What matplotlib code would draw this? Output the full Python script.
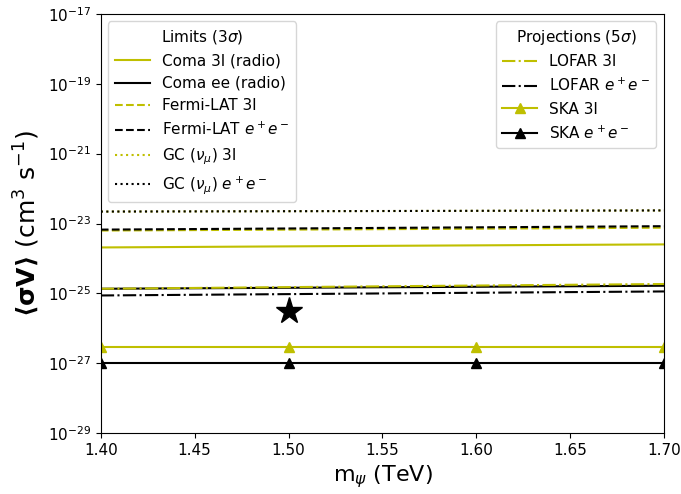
import matplotlib
matplotlib.use("Agg")
import matplotlib.pyplot as plt

plt.rcParams['font.size'] = 11

# masses (TeV)
m_line = [1.4, 1.55, 1.7]
m_ska = [1.4, 1.5, 1.6, 1.7]

# limits (3 sigma)
coma_3l = [2.07e-24, 2.3e-24, 2.53e-24]
coma_ee = [1.36e-25, 1.5e-25, 1.66e-25]
fermi_3l = [6.3e-24, 6.9e-24, 7.6e-24]
fermi_ee = [6.7e-24, 7.5e-24, 8.4e-24]
gc_3l = [2.2e-23, 2.28e-23, 2.37e-23]
gc_ee = [2.2e-23, 2.28e-23, 2.37e-23]

# projections (5 sigma)
lofar_3l = [1.36e-25, 1.6e-25, 1.86e-25]
lofar_ee = [8.75e-26, 1.0e-25, 1.14e-25]
ska_3l = [3e-27, 3e-27, 3e-27, 3e-27]
ska_ee = [1e-27, 1e-27, 1e-27, 1e-27]

# benchmark point
star_m = [1.5]
star_sv = [3.2e-26]

yc = 'y'

fig, ax = plt.subplots(figsize=(6.81, 4.94), dpi=100)

l1, = ax.plot(m_line, coma_3l, color=yc, ls='-', lw=1.5, label='Coma 3l (radio)')
l2, = ax.plot(m_line, coma_ee, color='k', ls='-', lw=1.5, label='Coma ee (radio)')
l3, = ax.plot(m_line, fermi_3l, color=yc, ls='--', lw=1.5, label='Fermi-LAT 3l')
l4, = ax.plot(m_line, fermi_ee, color='k', ls='--', lw=1.5, label='Fermi-LAT $e^+e^-$')
l5, = ax.plot(m_line, gc_3l, color=yc, ls=':', lw=1.5, label=r'GC ($\nu_\mu$) 3l')
l6, = ax.plot(m_line, gc_ee, color='k', ls=':', lw=1.5, label=r'GC ($\nu_\mu$) $e^+e^-$')

p1, = ax.plot(m_line, lofar_3l, color=yc, ls='-.', lw=1.5, label='LOFAR 3l')
p2, = ax.plot(m_line, lofar_ee, color='k', ls='-.', lw=1.5, label='LOFAR $e^+e^-$')
p3, = ax.plot(m_ska, ska_3l, color=yc, ls='-', lw=1.5, marker='^', ms=7, label='SKA 3l')
p4, = ax.plot(m_ska, ska_ee, color='k', ls='-', lw=1.5, marker='^', ms=7, label='SKA $e^+e^-$')

ax.plot(star_m, star_sv, color='k', marker='*', ms=20, ls='none', clip_on=False)

ax.set_yscale('log')
ax.set_xlim(1.4, 1.7)
ax.set_ylim(1e-29, 1e-17)
ax.set_yticks([1e-29, 1e-27, 1e-25, 1e-23, 1e-21, 1e-19, 1e-17])
ax.minorticks_off()
ax.set_xticks([1.40, 1.45, 1.50, 1.55, 1.60, 1.65, 1.70])
ax.set_xticklabels(['1.40', '1.45', '1.50', '1.55', '1.60', '1.65', '1.70'])

ax.set_xlabel(r'm$_\psi$ (TeV)', fontsize=16)
ax.set_ylabel(r'$\mathbf{\langle \sigma V \rangle}$ (cm$^3$ s$^{-1}$)', fontsize=18)

leg1 = ax.legend(handles=[l1, l2, l3, l4, l5, l6], loc='upper left',
                 title=r'Limits (3$\sigma$)', fontsize=11, title_fontsize=11,
                 handlelength=2.3)
ax.add_artist(leg1)
ax.legend(handles=[p1, p2, p3, p4], loc='upper right',
          title=r'Projections (5$\sigma$)', fontsize=11, title_fontsize=11,
          handlelength=2.3)

plt.subplots_adjust(left=0.148, right=0.975, top=0.972, bottom=0.123)
plt.savefig('out.png', dpi=100)
